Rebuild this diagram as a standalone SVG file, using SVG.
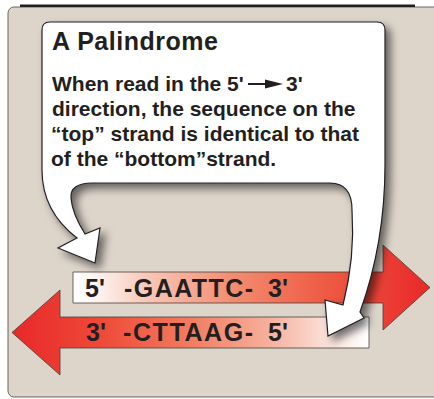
<svg xmlns="http://www.w3.org/2000/svg" width="434" height="399" viewBox="0 0 434 399">
  <defs>
    <style>
      .t { font-family: "Liberation Sans", Arial, Helvetica, sans-serif; font-weight: bold; fill: #231f20; }
      .title { font-size: 25px; }
      .body { font-size: 21px; }
      .seq { font-size: 25px; }
      .arrowshape { stroke: #4a3f3a; stroke-width: 0.8; stroke-linejoin: miter; }
    </style>
    <linearGradient id="gTop" gradientUnits="userSpaceOnUse" x1="73" y1="0" x2="430" y2="0">
      <stop offset="0" stop-color="#ffffff"/>
      <stop offset="0.08" stop-color="#fdf0eb"/>
      <stop offset="0.2" stop-color="#f8c9ba"/>
      <stop offset="0.45" stop-color="#f28c70"/>
      <stop offset="0.7" stop-color="#ee5c44"/>
      <stop offset="1" stop-color="#e8282a"/>
    </linearGradient>
    <linearGradient id="gBot" gradientUnits="userSpaceOnUse" x1="12" y1="0" x2="369" y2="0">
      <stop offset="0" stop-color="#e8282a"/>
      <stop offset="0.25" stop-color="#ee4a38"/>
      <stop offset="0.5" stop-color="#f27c60"/>
      <stop offset="0.72" stop-color="#f6b09c"/>
      <stop offset="0.88" stop-color="#fbe0d8"/>
      <stop offset="1" stop-color="#ffffff"/>
    </linearGradient>
    <filter id="shadow" x="-10%" y="-10%" width="130%" height="130%">
      <feDropShadow dx="5" dy="5" stdDeviation="4" flood-color="#000000" flood-opacity="0.55"/>
    </filter>
  </defs>

  <rect x="0" y="0" width="434" height="399" fill="#ffffff"/>

  <g id="panel">
    <rect x="8" y="7" width="450" height="390" rx="6" ry="6" fill="#ddd4ca" stroke="#6d625b" stroke-width="1"/>
    <rect x="20" y="4.5" width="395" height="2.5" fill="#231f20"/>
  </g>

  <g id="top-strand">
    <polygon class="arrowshape" fill="url(#gTop)" points="73,272 383,272 383,245 430,287.5 383,330 383,303 73,303"/>
    <text class="t seq" x="85" y="297">5'</text>
    <text class="t seq" x="124" y="297" textLength="129" lengthAdjust="spacing">-GAATTC-</text>
    <text class="t seq" x="268" y="297">3'</text>
  </g>

  <g id="bottom-strand">
    <polygon class="arrowshape" fill="url(#gBot)" points="369,317 60,317 60,290 12,332.5 60,375 60,348 369,348"/>
    <text class="t seq" x="86" y="341">3'</text>
    <text class="t seq" x="123" y="341" textLength="130" lengthAdjust="spacing">-CTTAAG-</text>
    <text class="t seq" x="268" y="341">5'</text>
  </g>

  <g id="callout">
    <path filter="url(#shadow)" fill="#ffffff" stroke="#231f20" stroke-width="1.2" stroke-linejoin="miter"
      d="M 50,22 H 377 Q 385,22 385,30 V 165 C 385,215 377,265 360,312 L 364,318 L 328,336 L 325,300 L 343,305 C 352,270 354,240 352,210 C 352,192 345,183 330,183 H 92 C 78,183 70,188 71,198 C 72,212 80,226 85,234 L 100,228 L 95,263 L 58,248 L 77,238 C 60,225 42,205 42,170 V 30 Q 42,22 50,22 Z"/>
    <text class="t title" x="52" y="50" textLength="166" lengthAdjust="spacing">A Palindrome</text>
    <text class="t body" x="52" y="90.5">When read in the 5'</text>
    <line x1="248" y1="84" x2="270" y2="84" stroke="#231f20" stroke-width="2"/>
    <polygon points="265,79.5 283,84 265,88.5" fill="#231f20"/>
    <text class="t body" x="286" y="90.5">3'</text>
    <text class="t body" x="52" y="115.5">direction, the sequence on the</text>
    <text class="t body" x="51" y="140.5">“top” strand is identical to that</text>
    <text class="t body" x="51" y="165.5">of the “bottom”strand.</text>
  </g>
</svg>
